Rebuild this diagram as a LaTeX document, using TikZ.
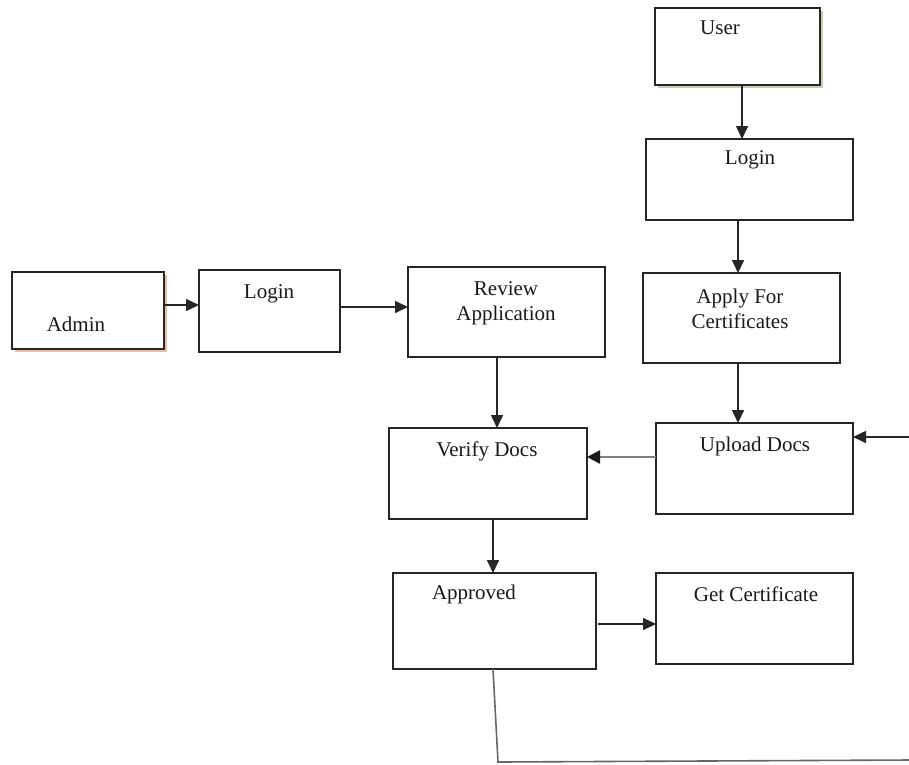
\documentclass[tikz,border=0pt]{standalone}
\usepackage{fontspec}
\setmainfont{Liberation Serif}
\usetikzlibrary{arrows.meta}
\begin{document}
\begin{tikzpicture}[x=1pt,y=-1pt,
  box/.style={draw=black!85,line width=1.6pt,fill=white,inner sep=0pt,outer sep=0pt},
  lbl/.style={inner sep=0pt,align=center,font=\fontsize{21}{25}\selectfont,text=black!90},
  arr/.style={line width=1.6pt,draw=black!85,-{Triangle[length=13pt,width=12pt]}},
  garr/.style={line width=2.4pt,draw=black!50,-{Triangle[length=13pt,width=13pt,color=black!90]}},
  gline/.style={line width=1.6pt,draw=black!60}]
\useasboundingbox (0,0) rectangle (909,764);
% shadows
\fill[red!35!brown!40] (15,275) rectangle (167,352);
\fill[olive!30!gray!45] (658,11) rectangle (823,88);
% boxes
\node[box,minimum width=165pt,minimum height=77pt] (user) at (737.5,46.5) {};
\node[box,minimum width=207pt,minimum height=81pt] (loginu) at (749.5,179.5) {};
\node[box,minimum width=197pt,minimum height=90pt] (apply) at (741.5,318) {};
\node[box,minimum width=197pt,minimum height=91pt] (upload) at (754.5,468.5) {};
\node[box,minimum width=198pt,minimum height=91pt] (verify) at (488,473.5) {};
\node[box,minimum width=203pt,minimum height=96pt] (approved) at (494.5,621) {};
\node[box,minimum width=197pt,minimum height=91pt] (getcert) at (754.5,618.5) {};
\node[box,minimum width=152pt,minimum height=77pt] (admin) at (88,310.5) {};
\node[box,minimum width=141pt,minimum height=82pt] (logina) at (269.5,311) {};
\node[box,minimum width=197pt,minimum height=90pt] (review) at (506.5,312) {};
% labels
\node[lbl] (userT) at (720,28) {User};
\node[lbl] (loginuT) at (750,160) {Login};
\node[lbl] (applyT) at (740,308.5) {Apply For\\Certificates};
\node[lbl] (uploadT) at (755,446) {Upload Docs};
\node[lbl] (verifyT) at (487,451) {Verify Docs};
\node[lbl] (approvedT) at (474,594) {Approved};
\node[lbl] (getcertT) at (756,594) {Get Certificate};
\node[lbl] (adminT) at (76,324) {Admin};
\node[lbl] (loginaT) at (269,294) {Login};
\node[lbl] (reviewT) at (506,303) {Review\\Application};
% connectors
\draw[arr] ([xshift=4.5pt]user.south) -- ([xshift=-7.5pt]loginu.north);
\draw[arr] ([xshift=-11.5pt]loginu.south) -- ([xshift=-3.5pt]apply.north);
\draw[arr] ([xshift=-3.5pt]apply.south) -- ([xshift=-16.5pt]upload.north);
\draw[arr] ([yshift=5.5pt]admin.east) -- ([yshift=6pt]logina.west);
\draw[arr] ([yshift=4pt]logina.east) -- ([yshift=5pt]review.west);
\draw[arr] ([xshift=-9.5pt]review.south) -- ([xshift=9pt]verify.north);
\draw[garr] ([yshift=11.5pt]upload.west) -- ([yshift=16.5pt]verify.east);
\draw[arr] ([xshift=5pt]verify.south) -- ([xshift=-1.5pt]approved.north);
\draw[arr] ([xshift=2pt,yshift=-3pt]approved.east) -- ([yshift=-5.5pt]getcert.west);
\coordinate (loopcorner) at (498,762);
\coordinate (loopend) at (909,760);
\coordinate (loopin) at (909,437);
\draw[gline] ([xshift=-1.5pt]approved.south) -- (loopcorner) -- (loopend);
\draw[arr] (loopin) -- ([yshift=31.5pt]upload.east);
\end{tikzpicture}
\end{document}
